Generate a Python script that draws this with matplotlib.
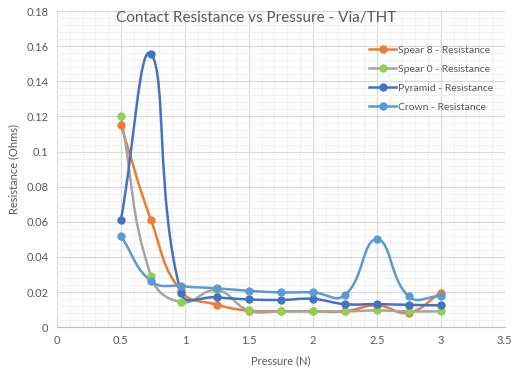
import numpy as np
import matplotlib.pyplot as plt
from matplotlib.path import Path
from matplotlib.patches import PathPatch
from matplotlib.lines import Line2D
from matplotlib.ticker import MultipleLocator

plt.rcParams["font.family"] = ["Lato", "DejaVu Sans"]

# pressure steps (N)
pressure = [0.5, 0.735, 0.97, 1.25, 1.5, 1.75, 2.0, 2.25, 2.5, 2.75, 3.0]

# resistance readings (Ohms)
spear8 = [0.115, 0.061, 0.0205, 0.0128, 0.0094, 0.0091, 0.0091, 0.009, 0.0124, 0.0083, 0.0196]
spear0 = [0.120, 0.029, 0.0142, 0.021, 0.0095, 0.009, 0.009, 0.009, 0.0095, 0.009, 0.009]
pyramid = [0.061, 0.1556, 0.0193, 0.0170, 0.0158, 0.0155, 0.0161, 0.0131, 0.0131, 0.0127, 0.0124]
crown = [0.0519, 0.0262, 0.0234, 0.0221, 0.0207, 0.0198, 0.0198, 0.0182, 0.050, 0.0175, 0.0178]

series = [
    ("Spear 8 - Resistance", spear8, "#ED7D31", "#ED7D31"),
    ("Spear 0 - Resistance", spear0, "#A5A5A5", "#92D050"),
    ("Pyramid - Resistance", pyramid, "#4472C4", "#4472C4"),
    ("Crown - Resistance", crown, "#5B9BD5", "#5B9BD5"),
]


def smooth_path(ax, xs, ys, t=0.45):
    # bezier through the points, control arms scaled by neighbouring chord lengths
    # (computed in display space so the shape does not depend on the units)
    pts = ax.transData.transform(np.column_stack([xs, ys]))
    n = len(pts)
    ctrl_in = [pts[0]] * n
    ctrl_out = [pts[0]] * n
    for i in range(n):
        p0 = pts[max(i - 1, 0)]
        p1 = pts[i]
        p2 = pts[min(i + 1, n - 1)]
        d01 = np.hypot(*(p1 - p0))
        d12 = np.hypot(*(p2 - p1))
        tot = d01 + d12 if d01 + d12 > 0 else 1.0
        ctrl_in[i] = p1 - t * d01 / tot * (p2 - p0)
        ctrl_out[i] = p1 + t * d12 / tot * (p2 - p0)
    verts = [pts[0]]
    codes = [Path.MOVETO]
    for i in range(n - 1):
        verts += [ctrl_out[i], ctrl_in[i + 1], pts[i + 1]]
        codes += [Path.CURVE4] * 3
    verts = ax.transData.inverted().transform(np.array(verts))
    return Path(verts, codes)


txt = "#595959"
fig = plt.figure(figsize=(5.13, 3.68), dpi=100)
ax = fig.add_axes([0.111, 0.111, 0.873, 0.859])
ax.set_xlim(0, 3.5)
ax.set_ylim(0, 0.18)

handles = []
for label, ys, lc, mc in series:
    ax.add_patch(PathPatch(smooth_path(ax, pressure, ys), fill=False, edgecolor=lc, lw=1.8, zorder=3))
    ax.plot(pressure, ys, "o", color=mc, markersize=5, zorder=4)
    handles.append(Line2D([], [], color=lc, lw=1.8, marker="o", markersize=5,
                          markerfacecolor=mc, markeredgecolor=mc, label=label))

ax.xaxis.set_major_locator(MultipleLocator(0.5))
ax.xaxis.set_minor_locator(MultipleLocator(0.1))
ax.yaxis.set_major_locator(MultipleLocator(0.02))
ax.yaxis.set_minor_locator(MultipleLocator(0.004))
ax.set_xticks([0, 0.5, 1, 1.5, 2, 2.5, 3, 3.5])
ax.set_xticklabels(["0", "0.5", "1", "1.5", "2", "2.5", "3", "3.5"])
ax.set_yticks([0, 0.02, 0.04, 0.06, 0.08, 0.1, 0.12, 0.14, 0.16, 0.18])
ax.set_yticklabels(["0", "0.02", "0.04", "0.06", "0.08", "0.1", "0.12", "0.14", "0.16", "0.18"])

ax.grid(which="major", color="#D9D9D9", lw=0.9, zorder=0)
ax.grid(which="minor", color="#EFEFEF", lw=0.7, zorder=0)
ax.set_axisbelow(True)
for s in ["top", "right", "left"]:
    ax.spines[s].set_visible(False)
ax.spines["bottom"].set_color("#BFBFBF")
ax.tick_params(which="both", length=0, colors=txt, labelsize=8, pad=6)

ax.set_xlabel("Pressure (N)", color=txt, fontsize=8, labelpad=6)
ax.set_ylabel("Resistance (Ohms)", color=txt, fontsize=8, labelpad=5)
ax.set_title("Contact Resistance vs Pressure - Via/THT", color=txt, fontsize=11,
             y=0.952, va="center", x=0.445)

ax.legend(handles=handles, loc="upper left", bbox_to_anchor=(0.688, 0.905),
          frameon=False, fontsize=7.5, labelcolor=txt, handlelength=2.6,
          handletextpad=0.15, labelspacing=0.95, borderaxespad=0)

fig.savefig("out.png", dpi=100)
